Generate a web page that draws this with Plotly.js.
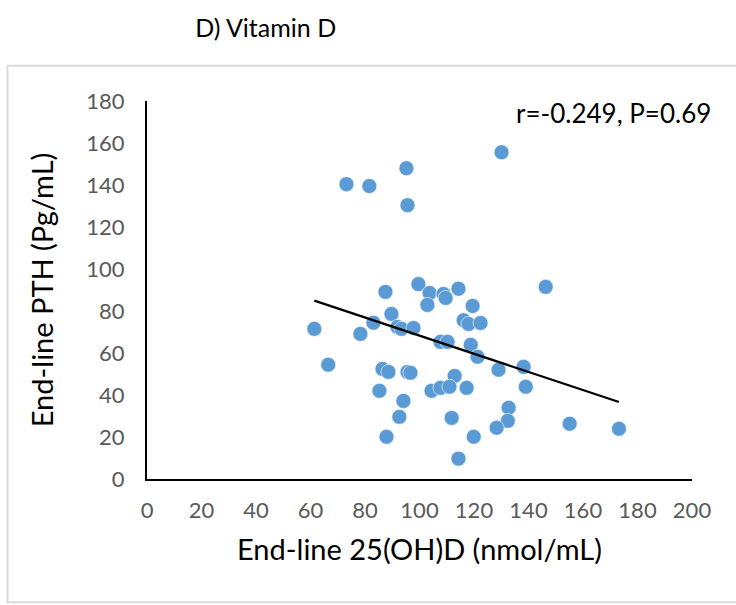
<!DOCTYPE html>
<html>
<head>
<meta charset="utf-8">
<script src="https://cdn.plot.ly/plotly-3.0.1.min.js"></script>
<style>
  html, body { margin: 0; padding: 0; background: #fff; }
  #chart { width: 736px; height: 605px; }
</style>
</head>
<body>
<div id="chart"></div>
<script>
// End-line 25(OH)D (nmol/mL)
const vitD = [73.2, 81.6, 95.2, 95.6, 130.1, 146.3, 61.4, 66.5, 78.3, 83.1,
  87.5, 89.7, 91.9, 93.4, 97.8, 99.6, 103.7, 108.8, 109.6, 102.9,
  114.3, 119.5, 116.2, 118.0, 122.4, 107.7, 110.3, 118.8, 121.3, 129.0,
  138.2, 139.0, 112.9, 104.4, 107.7, 111.0, 117.3, 86.4, 88.6, 95.6,
  96.7, 85.3, 94.1, 92.6, 87.9, 111.8, 132.7, 132.4, 128.3, 119.9,
  114.3, 155.1, 173.2];
// End-line PTH (Pg/mL)
const pth = [140.4, 139.5, 148.0, 130.4, 155.6, 91.5, 71.5, 54.4, 69.1, 74.4,
  89.1, 78.6, 72.4, 71.5, 71.9, 92.8, 88.6, 88.1, 86.2, 82.9,
  90.6, 82.4, 75.6, 73.8, 74.3, 65.3, 65.3, 63.9, 58.2, 52.0,
  53.4, 43.9, 49.1, 42.0, 43.4, 43.9, 43.4, 52.4, 51.0, 51.0,
  50.6, 42.0, 37.2, 29.6, 20.1, 29.1, 33.9, 27.7, 24.4, 20.1,
  9.7, 26.3, 23.9];
const xTicks = [0, 20, 40, 60, 80, 100, 120, 140, 160, 180, 200];
const yTicks = [0, 20, 40, 60, 80, 100, 120, 140, 160, 180];
const statText = "r=-0.249, P=0.69";

// least-squares linear trend line from the data
const n = vitD.length;
const mx = vitD.reduce((a, b) => a + b, 0) / n;
const my = pth.reduce((a, b) => a + b, 0) / n;
let sxy = 0, sxx = 0;
for (let i = 0; i < n; i++) { sxy += (vitD[i] - mx) * (pth[i] - my); sxx += (vitD[i] - mx) ** 2; }
const slope = sxy / sxx, icpt = my - slope * mx;
const xMin = Math.min(...vitD), xMax = Math.max(...vitD);
const trendX = [xMin, xMax];
const trendY = trendX.map(v => icpt + slope * v);

const FONT = "Lato, 'Open Sans', sans-serif";

const traces = [
  {
    x: vitD, y: pth, type: "scatter", mode: "markers",
    marker: { color: "#5B9BD5", size: 15, line: { color: "#ffffff", width: 0.6 } },
    hoverinfo: "x+y", showlegend: false
  },
  {
    x: trendX, y: trendY, type: "scatter", mode: "lines",
    line: { color: "#000000", width: 2.2 }, hoverinfo: "skip", showlegend: false
  }
];

const layout = {
  width: 736, height: 605,
  margin: { l: 147, r: 44, t: 101, b: 126 },
  paper_bgcolor: "#ffffff", plot_bgcolor: "#ffffff",
  font: { family: FONT, color: "#000" },
  title: {
    text: "D) Vitamin D", font: { family: FONT, size: 25, color: "#000" },
    xref: "container", yref: "container", x: 0.361, xanchor: "center", y: 0.954, yanchor: "middle"
  },
  xaxis: {
    range: [0, 200], tickvals: xTicks, ticktext: xTicks.map(String),
    showgrid: false, zeroline: false, showline: true, linecolor: "#000", linewidth: 2,
    ticks: "", ticklabelstandoff: 11,
    tickfont: { family: FONT, size: 22, color: "#595959" },
    title: { text: "End-line 25(OH)D (nmol/mL)", font: { family: FONT, size: 29, color: "#000" }, standoff: 17 },
    fixedrange: true
  },
  yaxis: {
    range: [0, 180], tickvals: yTicks, ticktext: yTicks.map(String),
    showgrid: false, zeroline: false, showline: true, linecolor: "#000", linewidth: 2,
    ticks: "", ticklabelstandoff: 16,
    tickfont: { family: FONT, size: 22, color: "#595959" },
    title: { text: "End-line PTH (Pg/mL)", font: { family: FONT, size: 29, color: "#000" }, standoff: 24 },
    fixedrange: true
  },
  annotations: [
    {
      text: statText, xref: "paper", yref: "paper", x: 1.038, y: 0.967,
      xanchor: "right", yanchor: "middle", showarrow: false,
      font: { family: FONT, size: 26, color: "#000" }
    }
  ],
  shapes: [
    {
      type: "rect", xref: "paper", yref: "paper",
      x0: -0.256, x1: 1.09, y0: -0.326, y1: 1.0935,
      line: { color: "#d9d9d9", width: 2 }, fillcolor: "rgba(0,0,0,0)", layer: "below"
    }
  ]
};

Plotly.newPlot("chart", traces, layout, { displayModeBar: false, staticPlot: true });
</script>
</body>
</html>
